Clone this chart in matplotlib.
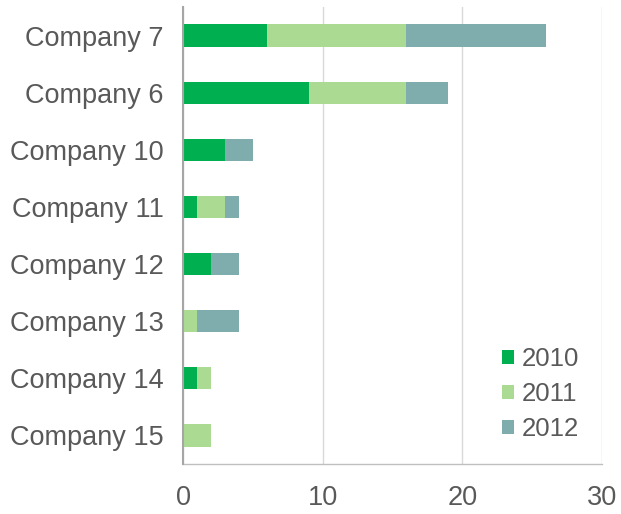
import matplotlib
matplotlib.use("Agg")
import matplotlib.pyplot as plt

plt.rcParams["font.family"] = ["Liberation Sans", "DejaVu Sans"]

companies = ["Company 7", "Company 6", "Company 10", "Company 11",
             "Company 12", "Company 13", "Company 14", "Company 15"]
years = ["2010", "2011", "2012"]
v2010 = [6, 9, 3, 1, 2, 0, 1, 0]
v2011 = [10, 7, 0, 2, 0, 1, 1, 2]
v2012 = [10, 3, 2, 1, 2, 3, 0, 0]
colors = ["#00B050", "#ABDB92", "#7FACAC"]
text_color = "#595959"

fig = plt.figure(figsize=(6.21, 5.14), dpi=100)
ax = fig.add_axes([0.2947, 0.0973, 0.6747, 0.889])

ypos = list(range(len(companies)))
left = [0] * len(companies)
for vals, col, lab in zip([v2010, v2011, v2012], colors, years):
    ax.barh(ypos, vals, left=left, height=0.39, color=col, label=lab, zorder=3)
    left = [a + b for a, b in zip(left, vals)]

ax.set_xlim(0, 30)
ax.set_ylim(len(companies) - 0.5, -0.5)
ax.set_xticks([0, 10, 20, 30])
ax.set_yticks(ypos)
ax.set_yticklabels(companies)
ax.tick_params(axis="y", length=0, pad=14, labelsize=19.5, labelcolor=text_color)
ax.tick_params(axis="x", length=0, pad=15, labelsize=19.5, labelcolor=text_color)
ax.grid(axis="x", color="#D9D9D9", linewidth=1, zorder=0)

for s in ["top", "right"]:
    ax.spines[s].set_visible(False)
ax.spines["left"].set_color("#A6A6A6")
ax.spines["left"].set_linewidth(1.5)
ax.spines["left"].set_zorder(4)
ax.spines["bottom"].set_color("#BFBFBF")
ax.spines["bottom"].set_linewidth(1)

leg = ax.legend(loc="lower right", bbox_to_anchor=(1.0, 0.0), frameon=False,
                fontsize=18.5, handlelength=0.45, handleheight=0.45,
                handletextpad=0.3, labelspacing=0.42)
for t in leg.get_texts():
    t.set_color(text_color)

fig.savefig("out.png", dpi=100)
